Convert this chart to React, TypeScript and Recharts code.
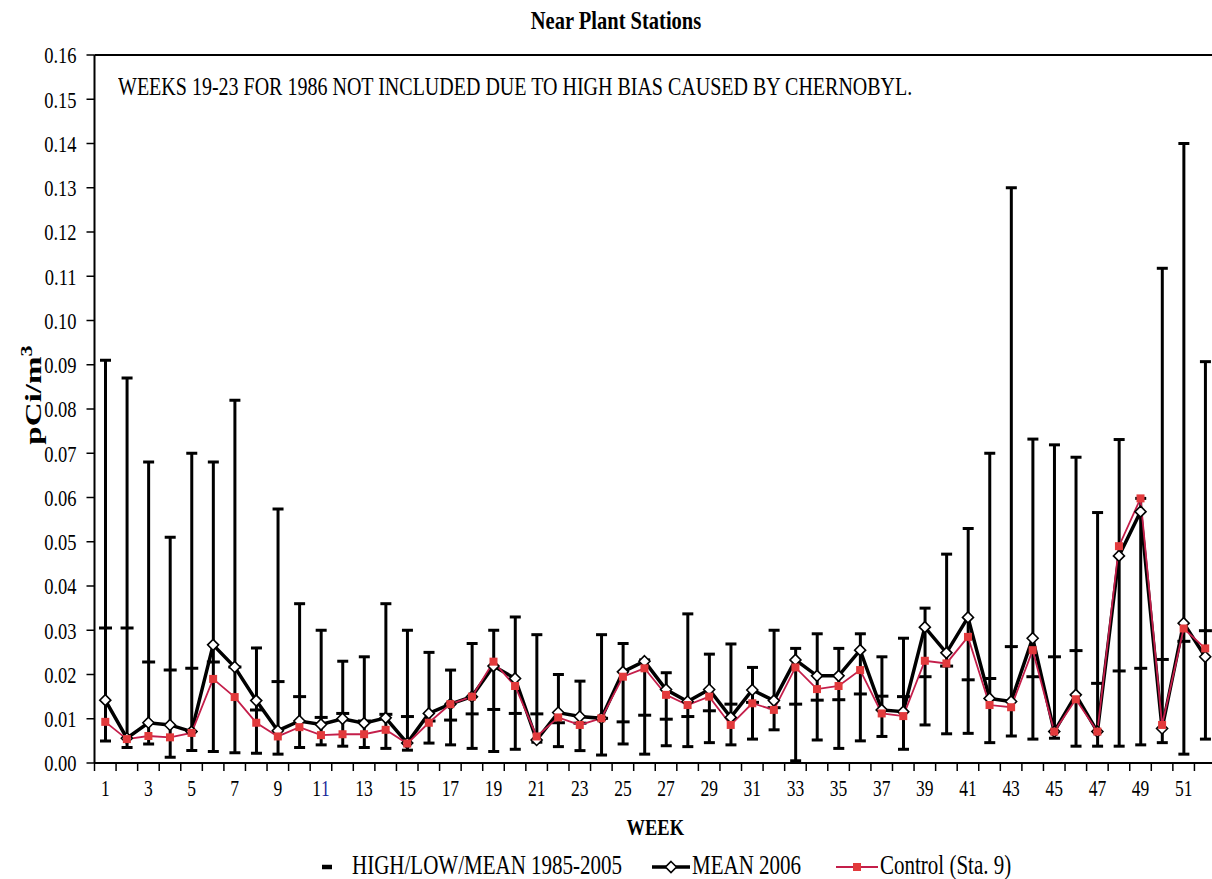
import React from 'react';
import { ComposedChart, Bar, Line, XAxis, YAxis, ReferenceLine, Legend } from 'recharts';

const weeks = [1,2,3,4,5,6,7,8,9,10,11,12,13,14,15,16,17,18,19,20,21,22,23,24,25,26,27,28,29,30,31,32,33,34,35,36,37,38,39,40,41,42,43,44,45,46,47,48,49,50,51,52];

const histHigh = [0.091,0.087,0.068,0.051,0.070,0.068,0.082,0.026,0.0574,0.036,0.030,0.023,0.024,0.036,0.030,0.025,0.021,0.027,0.030,0.033,0.029,0.020,0.0185,0.029,0.027,0.0233,0.0204,0.0337,0.0246,0.0269,0.0216,0.030,0.0259,0.0292,0.0259,0.0292,0.024,0.0282,0.035,0.0472,0.053,0.070,0.130,0.0732,0.0719,0.0691,0.0566,0.0731,0.0598,0.1118,0.140,0.0907];

const histLow = [0.005,0.0035,0.0043,0.0013,0.0028,0.0026,0.0023,0.0022,0.002,0.0035,0.0041,0.0038,0.0035,0.0033,0.0029,0.0045,0.0041,0.0033,0.0026,0.0031,0.0047,0.0037,0.0028,0.0018,0.0043,0.002,0.0039,0.0037,0.0046,0.0041,0.0054,0.0075,0.0005,0.0052,0.0033,0.005,0.006,0.0031,0.0086,0.0066,0.0067,0.0046,0.0061,0.0054,0.0056,0.0038,0.0038,0.0038,0.0041,0.0046,0.002,0.0054];

const histMean = [0.0305,0.0305,0.0228,0.021,0.0214,0.0228,0.0217,0.012,0.0184,0.015,0.0103,0.0112,0.0095,0.011,0.0105,0.0095,0.0097,0.0111,0.0121,0.0112,0.0111,0.0091,0.009,0.0101,0.0093,0.0108,0.0099,0.0105,0.0118,0.0133,0.0137,0.0125,0.0133,0.0142,0.0143,0.0156,0.0151,0.015,0.0195,0.0219,0.0188,0.0191,0.0263,0.0195,0.024,0.0254,0.018,0.0208,0.0214,0.0234,0.0275,0.0299];

const mean2006 = [0.0142,0.0056,0.0091,0.0086,0.0071,0.0267,0.0217,0.0141,0.0073,0.0095,0.0087,0.01,0.009,0.0102,0.0045,0.0112,0.0133,0.015,0.0219,0.0191,0.0052,0.0114,0.0105,0.0101,0.0206,0.023,0.0166,0.0139,0.0166,0.0103,0.0165,0.0141,0.0233,0.0197,0.0197,0.0255,0.012,0.0116,0.0307,0.0249,0.0329,0.0146,0.0139,0.0282,0.0071,0.0154,0.0071,0.0468,0.0568,0.0078,0.0316,0.024];

const control = [0.0093,0.0054,0.0061,0.0058,0.0068,0.019,0.0149,0.0091,0.006,0.0081,0.0063,0.0065,0.0065,0.0075,0.0044,0.0091,0.0133,0.015,0.0229,0.0174,0.006,0.0103,0.0086,0.0101,0.0195,0.0214,0.0154,0.0131,0.015,0.0086,0.0135,0.012,0.0216,0.0167,0.0174,0.021,0.0112,0.0106,0.0231,0.0225,0.0285,0.0131,0.0126,0.0255,0.0071,0.0144,0.0071,0.049,0.0598,0.0086,0.0304,0.0259];

const yTicks = [0,0.01,0.02,0.03,0.04,0.05,0.06,0.07,0.08,0.09,0.10,0.11,0.12,0.13,0.14,0.15,0.16];
const labelTicks = [1,3,5,7,9,11,13,15,17,19,21,23,25,27,29,31,33,35,37,39,41,43,45,47,49,51];
const edgeTicks = [...weeks.map((w) => w - 0.5), weeks[weeks.length - 1] + 0.5];

const data = weeks.map((w, i) => ({
  week: w,
  range: [histLow[i], histHigh[i]],
  high: histHigh[i],
  low: histLow[i],
  hmean: histMean[i],
  m2006: mean2006[i],
  control: control[i],
}));

const FONT = "'Liberation Serif', 'Times New Roman', Times, serif";
const STRETCH = 1.28;

const HLMShape = (props: any) => {
  const { x, y, width, height, payload } = props;
  if (x == null || y == null || payload == null) return <g />;
  const cx = x + width / 2;
  const top = Math.min(y, y + height);
  const bot = Math.max(y, y + height);
  const hi = payload.high;
  const lo = payload.low;
  const my = top + ((bot - top) * (hi - payload.hmean)) / (hi - lo);
  return (
    <g stroke="#000" strokeWidth={3}>
      <line x1={cx} x2={cx} y1={top} y2={bot} />
      <line x1={cx - 5.5} x2={cx + 5.5} y1={top} y2={top} />
      <line x1={cx - 5.5} x2={cx + 5.5} y1={bot} y2={bot} />
      <line x1={cx - 6.5} x2={cx + 6.5} y1={my} y2={my} />
    </g>
  );
};

const Diamond = (p: any) => {
  const { cx, cy } = p;
  if (cx == null || cy == null) return <g key={p.key} />;
  const r = 5.5;
  return (
    <path
      key={p.key}
      d={`M${cx},${cy - r}L${cx + r},${cy}L${cx},${cy + r}L${cx - r},${cy}Z`}
      fill="#fff"
      stroke="#000"
      strokeWidth={1.6}
    />
  );
};

const Square = (p: any) => {
  const { cx, cy } = p;
  if (cx == null || cy == null) return <g key={p.key} />;
  return <rect key={p.key} x={cx - 4} y={cy - 4} width={8} height={8} fill="#e23a3c" />;
};

const EmptyTick = () => <g />;

const WeekTick = (p: any) => {
  const { x, y, payload } = p;
  const v = String(payload.value);
  return (
    <g transform={`translate(${x},${y}) scale(1,${STRETCH})`}>
      <text x={0} y={0} dy="0.71em" textAnchor="middle" fontSize={17.5} fontFamily={FONT} fill="#000">
        {v === '11' ? (
          <>
            <tspan>1</tspan>
            <tspan fill="#1a2a9a">1</tspan>
          </>
        ) : (
          v
        )}
      </text>
    </g>
  );
};

const ValueTick = (p: any) => {
  const { x, y, payload } = p;
  return (
    <g transform={`translate(${x},${y}) scale(1,${STRETCH})`}>
      <text x={0} y={0} dy="0.355em" textAnchor="end" fontSize={18.5} fontFamily={FONT} fill="#000">
        {Number(payload.value).toFixed(2)}
      </text>
    </g>
  );
};

const WeekLabel = (p: any) => {
  const vb = p.viewBox || {};
  const cx = vb.x + vb.width / 2;
  const cy = vb.y + 64;
  return (
    <g transform={`translate(${cx},${cy}) scale(1,${STRETCH})`}>
      <text x={0} y={0} textAnchor="middle" fontSize={18.5} fontWeight="bold" fontFamily={FONT} fill="#000">
        WEEK
      </text>
    </g>
  );
};

const YLabel = (p: any) => {
  const vb = p.viewBox || {};
  const cx = 41;
  const cy = vb.y + vb.height / 2 - 14;
  return (
    <g transform={`translate(${cx},${cy}) rotate(-90) scale(1.38,1)`}>
      <text x={0} y={0} textAnchor="middle" fontSize={24} fontWeight="bold" fontFamily={FONT} fill="#000">
        pCi/m
        <tspan dy={-9} fontSize={16}>3</tspan>
      </text>
    </g>
  );
};

const htmlText = (size: number, bold = false): React.CSSProperties => ({
  fontSize: size,
  fontWeight: bold ? 'bold' : 'normal',
  lineHeight: '22px',
  whiteSpace: 'nowrap',
  fontFamily: FONT,
  color: '#000',
  transform: `scaleY(${STRETCH})`,
  transformOrigin: '50% 50%',
});

const LegendContent = () => {
  const txt: React.CSSProperties = { ...htmlText(21), position: 'absolute', top: 5 };
  return (
    <div style={{ position: 'relative', width: '100%', height: 30 }}>
      <svg width={1212} height={30} style={{ position: 'absolute', left: 0, top: 0 }}>
        <line x1={322} x2={332} y1={18} y2={18} stroke="#000" strokeWidth={4.5} />
        <line x1={652} x2={690} y1={18} y2={18} stroke="#000" strokeWidth={3.5} />
        <path d="M671,12.5L676.5,18L671,23.5L665.5,18Z" fill="#fff" stroke="#000" strokeWidth={1.6} />
        <line x1={836} x2={878} y1={18} y2={18} stroke="#c41e4a" strokeWidth={1.8} />
        <rect x={853} y={14} width={8} height={8} fill="#e23a3c" />
      </svg>
      <span style={{ ...txt, left: 352 }}>HIGH/LOW/MEAN 1985-2005</span>
      <span style={{ ...txt, left: 692 }}>MEAN 2006</span>
      <span style={{ ...txt, left: 880 }}>Control (Sta. 9)</span>
    </div>
  );
};

export default function App() {
  return (
    <div
      style={{
        position: 'absolute',
        left: 0,
        top: 0,
        width: 1212,
        height: 879,
        overflow: 'hidden',
        background: '#fff',
        fontFamily: FONT,
      }}
    >
      <div
        style={{
          ...htmlText(20.5, true),
          position: 'absolute',
          left: 0,
          top: 9,
          width: 1232,
          textAlign: 'center',
        }}
      >
        Near Plant Stations
      </div>
      <div
        style={{
          ...htmlText(20),
          position: 'absolute',
          left: 118,
          top: 75,
          transformOrigin: '0 50%',
          zIndex: 2,
        }}
      >
        WEEKS 19-23 FOR 1986 NOT INCLUDED DUE TO HIGH BIAS CAUSED BY CHERNOBYL.
      </div>
      <ComposedChart
        width={1222}
        height={879}
        data={data}
        margin={{ top: 55, right: 6, bottom: 0, left: 0 }}
        style={{ position: 'absolute', left: 0, top: 0 }}
      >
        <XAxis
          xAxisId="edges"
          dataKey="week"
          type="number"
          domain={[0.5, 52.5]}
          ticks={edgeTicks}
          interval={0}
          height={8}
          tickSize={8}
          tick={EmptyTick}
          axisLine={{ stroke: '#000', strokeWidth: 2 }}
          tickLine={{ stroke: '#000', strokeWidth: 1.5 }}
          allowDataOverflow
        />
        <XAxis
          xAxisId="labels"
          dataKey="week"
          type="number"
          domain={[0.5, 52.5]}
          ticks={labelTicks}
          interval={0}
          height={78}
          tickSize={0}
          tickMargin={9}
          axisLine={false}
          tickLine={false}
          tick={WeekTick}
          label={WeekLabel}
          allowDataOverflow
        />
        <YAxis
          domain={[0, 0.16]}
          ticks={yTicks}
          interval={0}
          width={94.5}
          tickSize={8}
          tickMargin={10}
          tick={ValueTick}
          axisLine={{ stroke: '#000', strokeWidth: 2 }}
          tickLine={{ stroke: '#000', strokeWidth: 1.5 }}
          label={YLabel}
          allowDataOverflow
        />
        <ReferenceLine xAxisId="edges" y={0.16} stroke="#000" strokeWidth={2} />
        <Bar
          xAxisId="edges"
          dataKey="range"
          barSize={12}
          shape={HLMShape}
          isAnimationActive={false}
          legendType="none"
        />
        <Line
          xAxisId="edges"
          dataKey="m2006"
          stroke="#000"
          strokeWidth={3.5}
          dot={Diamond}
          activeDot={false}
          isAnimationActive={false}
        />
        <Line
          xAxisId="edges"
          dataKey="control"
          stroke="#c41e4a"
          strokeWidth={1.8}
          dot={Square}
          activeDot={false}
          isAnimationActive={false}
        />
        <Legend verticalAlign="bottom" height={30} content={LegendContent} />
      </ComposedChart>
    </div>
  );
}
